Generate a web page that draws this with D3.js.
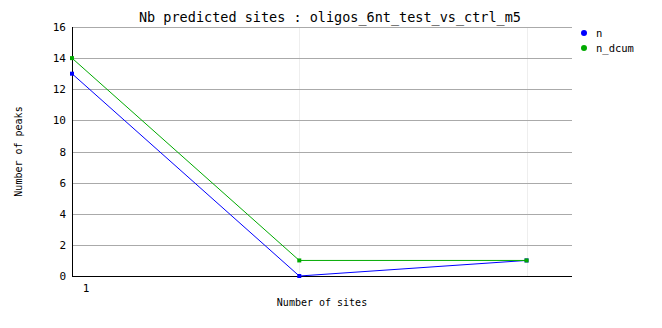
<!DOCTYPE html>
<html>
<head>
<meta charset="utf-8">
<script src="https://cdn.jsdelivr.net/npm/d3@7"></script>
<style>
  body { margin: 0; background: #fff; }
  text { font-family: "DejaVu Sans Mono", monospace; font-size: 11px; fill: #000; }
</style>
</head>
<body>
<svg id="chart" width="662" height="328"></svg>
<script>
// data
const sites = [1, 2, 3];
const nValues = [13, 0, 1];
const nDcumValues = [14, 1, 1];
const yTicks = [0, 2, 4, 6, 8, 10, 12, 14, 16];
const series = [
  { name: "n", color: "#0000ff", values: nValues },
  { name: "n_dcum", color: "#00aa00", values: nDcumValues }
];

const svg = d3.select("#chart");
const plotLeft = 72, plotRight = 572, plotTop = 27, plotBottom = 276;

const x = d3.scaleLinear().domain([1, 3.2]).range([plotLeft, plotRight]);
const y = d3.scaleLinear().domain([0, 16]).range([plotBottom, plotTop]);

// title
svg.append("text")
  .attr("x", 330).attr("y", 22)
  .attr("text-anchor", "middle")
  .style("font-size", "13.5px")
  .text("Nb predicted sites : oligos_6nt_test_vs_ctrl_m5");

// vertical faint grid
svg.selectAll(".vgrid").data(sites.slice(1)).join("line")
  .attr("x1", d => Math.round(x(d)) + 0.5).attr("x2", d => Math.round(x(d)) + 0.5)
  .attr("y1", plotTop).attr("y2", plotBottom)
  .attr("stroke", "#eeeeee");

// horizontal grid
svg.selectAll(".hgrid").data(yTicks.slice(1)).join("line")
  .attr("x1", plotLeft).attr("x2", plotRight)
  .attr("y1", d => Math.round(y(d)) + 0.5).attr("y2", d => Math.round(y(d)) + 0.5)
  .attr("stroke", "#aaaaaa");

// y tick labels
svg.selectAll(".ylab").data(yTicks).join("text")
  .attr("x", plotLeft - 6).attr("y", d => y(d) + 4)
  .attr("text-anchor", "end")
  .text(d => d);

// x tick label
svg.append("text")
  .attr("x", x(1) + 14).attr("y", plotBottom + 16)
  .attr("text-anchor", "middle")
  .text("1");

// axes
svg.append("line").attr("x1", plotLeft + 0.5).attr("x2", plotLeft + 0.5)
  .attr("y1", plotTop).attr("y2", plotBottom).attr("stroke", "#000");
svg.append("line").attr("x1", plotLeft).attr("x2", plotRight)
  .attr("y1", plotBottom + 0.5).attr("y2", plotBottom + 0.5).attr("stroke", "#000");

// axis labels
svg.append("text")
  .attr("transform", `translate(22,${(plotTop + plotBottom) / 2}) rotate(-90)`)
  .attr("text-anchor", "middle")
  .style("font-size", "10px")
  .text("Number of peaks");
svg.append("text")
  .attr("x", 322).attr("y", 306)
  .attr("text-anchor", "middle")
  .style("font-size", "10px")
  .text("Number of sites");

// lines
const line = d3.line().x((d, i) => x(sites[i])).y(d => y(d));
series.forEach(s => {
  svg.append("path")
    .attr("d", line(s.values))
    .attr("fill", "none")
    .attr("stroke", s.color)
    .attr("stroke-width", 1);
  svg.selectAll(null).data(s.values).join("rect")
    .attr("x", (d, i) => x(sites[i]) - 2)
    .attr("y", d => y(d) - 2)
    .attr("width", 4).attr("height", 4)
    .attr("fill", s.color);
});

// legend
series.forEach((s, i) => {
  const ly = 33 + i * 15;
  svg.append("circle").attr("cx", 584).attr("cy", ly).attr("r", 3).attr("fill", s.color);
  svg.append("text").attr("x", 596).attr("y", ly + 4).style("font-size", "10.5px").text(s.name);
});
</script>
</body>
</html>
